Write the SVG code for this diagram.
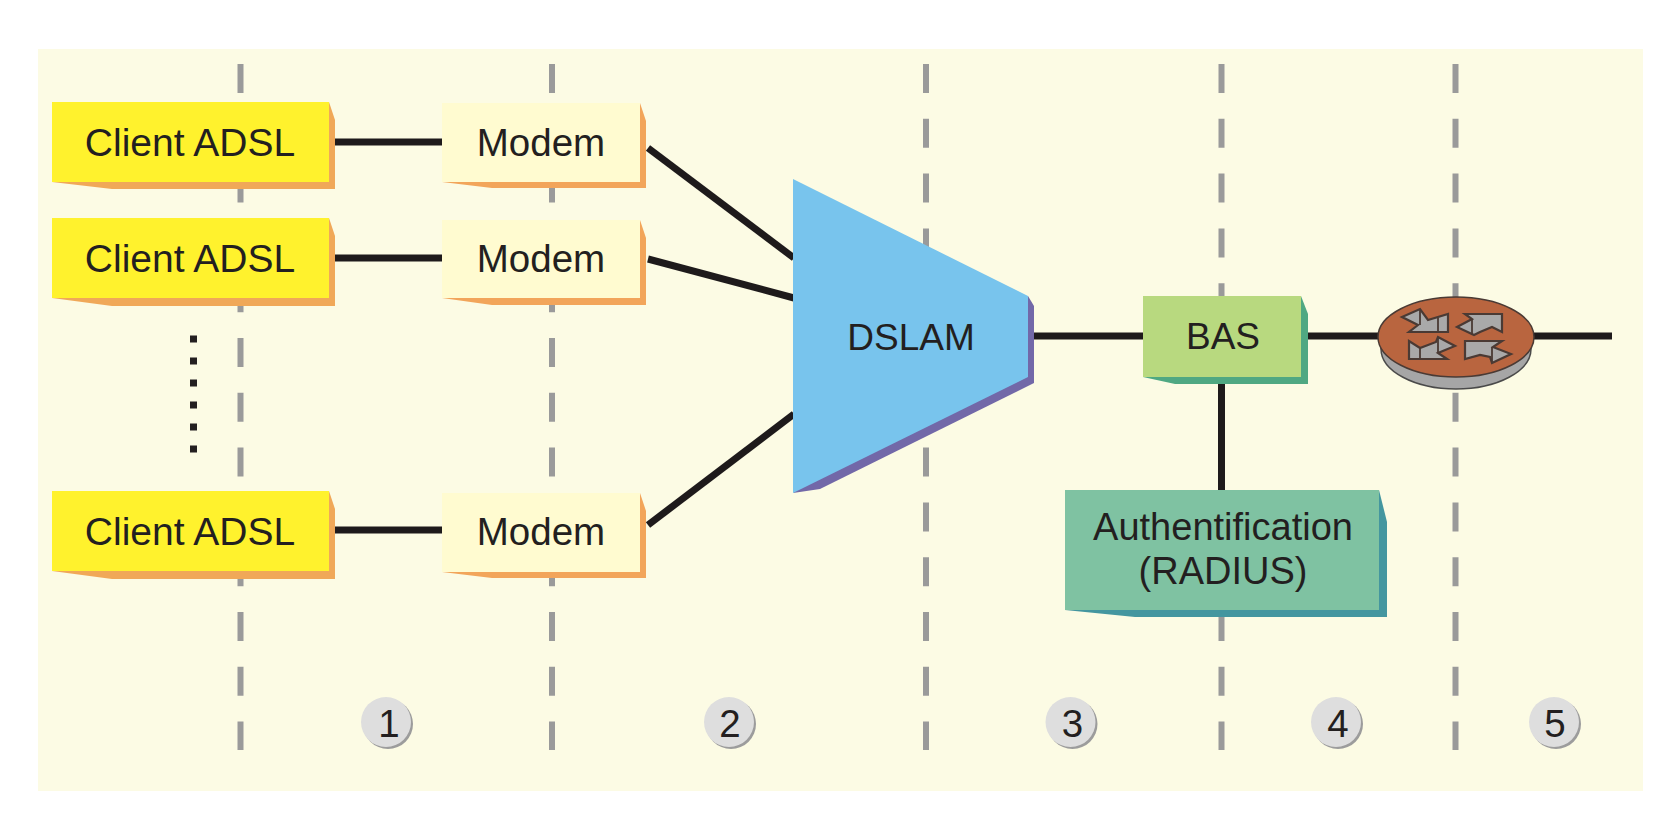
<svg xmlns="http://www.w3.org/2000/svg" width="1672" height="830" viewBox="0 0 1672 830">
<style>
text{font-family:"Liberation Sans",Arial,sans-serif;fill:#231f20;font-size:38.500px;text-anchor:middle}
.cl{font-size:39px}
.sep{stroke:#9a9a9a;stroke-width:6;stroke-dasharray:29 25.8;fill:none}
.con{stroke:#1e1a1b;stroke-width:7;fill:none}
.yf{fill:#fff22d}.ys{fill:#f0a858}
.mf{fill:#fffbd0}.ms{fill:#f2a55a}
.ar{fill:#a9a9a9;stroke:#4a3a34;stroke-width:2.200;stroke-linejoin:miter}
.arl{stroke:#4a3a34;stroke-width:1.800;fill:none}
.nb{fill:#dedede}.ns{fill:#9c9c9c}
.dot{fill:#231f20}
</style>
<rect width="1672" height="830" fill="#ffffff"/>
<rect x="38" y="49" width="1605" height="742" fill="#fcfbe4"/>
<g id="separators">
<line class="sep" x1="240.500" y1="64" x2="240.500" y2="750"/>
<line class="sep" x1="552" y1="64" x2="552" y2="750"/>
<line class="sep" x1="926" y1="64" x2="926" y2="750"/>
<line class="sep" x1="1221.500" y1="64" x2="1221.500" y2="750"/>
<line class="sep" x1="1455.500" y1="64" x2="1455.500" y2="750"/>
</g>
<g id="connectors">
<line class="con" x1="335" y1="142" x2="444" y2="142"/>
<line class="con" x1="335" y1="258" x2="444" y2="258"/>
<line class="con" x1="335" y1="530" x2="444" y2="530"/>
<line class="con" x1="648" y1="148" x2="794" y2="258"/>
<line class="con" x1="648" y1="259" x2="794" y2="298"/>
<line class="con" x1="648" y1="525" x2="794" y2="414"/>
<line class="con" x1="1034" y1="336" x2="1144" y2="336"/>
<line class="con" x1="1308" y1="336" x2="1380" y2="336"/>
<line class="con" x1="1532" y1="336" x2="1612" y2="336"/>
<line class="con" x1="1221.500" y1="384" x2="1221.500" y2="491"/>
</g>
<g id="client1"><polygon class="ys" points="329,102 335,120 335,189 112,189 52,182"/><rect class="yf" x="52" y="102" width="277" height="80"/><text class="cl" x="190" y="155.500">Client ADSL</text></g>
<g id="client2"><polygon class="ys" points="329,218 335,236 335,306 112,306 52,298"/><rect class="yf" x="52" y="218" width="277" height="80"/><text class="cl" x="190" y="271.500">Client ADSL</text></g>
<g id="client3"><polygon class="ys" points="329,491 335,509 335,579 112,579 52,571"/><rect class="yf" x="52" y="491" width="277" height="80"/><text class="cl" x="190" y="544.500">Client ADSL</text></g>
<g id="modem1"><polygon class="ms" points="640,103 646,121 646,188 492,188 442,182"/><rect class="mf" x="442" y="103" width="198" height="79"/><text x="541" y="155.500">Modem</text></g>
<g id="modem2"><polygon class="ms" points="640,220 646,238 646,305 492,305 442,298"/><rect class="mf" x="442" y="220" width="198" height="78"/><text x="541" y="271.500">Modem</text></g>
<g id="modem3"><polygon class="ms" points="640,493 646,511 646,578 492,578 442,572"/><rect class="mf" x="442" y="493" width="198" height="79"/><text x="541" y="544.500">Modem</text></g>
<g id="dslam"><polygon fill="#7268a8" points="1028,296 1034,306 1034,383 820,489 793,493"/><polygon fill="#78c4ed" points="793,179 1028,296 1028,377 793,493"/><text x="911" y="350" style="font-size:37px">DSLAM</text></g>
<g id="bas"><polygon fill="#4fa882" points="1301,296 1308,314 1308,384 1175,384 1143,377"/><rect fill="#b8d97f" x="1143" y="296" width="158" height="81"/><text x="1223" y="349" style="font-size:37px">BAS</text></g>
<g id="auth"><polygon fill="#44969f" points="1379,490 1387,522 1387,617 1135,617 1065,610"/><rect fill="#7fc2a2" x="1065" y="490" width="314" height="120"/><text x="1223" y="540" style="font-size:38px">Authentification</text><text x="1223" y="584" style="font-size:38px">(RADIUS)</text></g>
<g id="router">
<ellipse cx="1456" cy="349" rx="75" ry="40" fill="#a6a6a6" stroke="#4a4a4a" stroke-width="1.500"/>
<ellipse cx="1456" cy="337" rx="78" ry="40" fill="#b9653f" stroke="#4a3a34" stroke-width="1.500"/>
<polygon class="ar" points="1402,317 1420,309 1428,320 1448,314 1448,332 1409,332 1418,325"/>
<path class="arl" d="M1420,309V325M1438,318V332"/>
<polygon class="ar" points="1457,327 1472,319 1465,314 1502,314 1502,332 1492,327 1480,332 1474,335"/>
<path class="arl" d="M1472,319V335"/>
<polygon class="ar" points="1409,341 1409,359 1447,359 1438,353 1455,346 1438,337 1436,342 1420,348"/>
<path class="arl" d="M1420,348V359M1438,337V353"/>
<polygon class="ar" points="1465,341 1502,341 1493,347 1511,354 1492,363 1490,357 1480,355 1465,359"/>
<path class="arl" d="M1492,347V363"/>
</g>
<g id="dots"><rect class="dot" x="190" y="335.500" width="7" height="7"/><rect class="dot" x="190" y="357.500" width="7" height="7"/><rect class="dot" x="190" y="379.500" width="7" height="7"/><rect class="dot" x="190" y="401.500" width="7" height="7"/><rect class="dot" x="190" y="423.500" width="7" height="7"/><rect class="dot" x="190" y="445.500" width="7" height="7"/></g>
<g id="n1"><ellipse class="ns" cx="388" cy="724" rx="25" ry="25"/><ellipse class="nb" cx="386" cy="722" rx="25" ry="25"/><text x="389" y="737">1</text></g>
<g id="n2"><ellipse class="ns" cx="731" cy="724" rx="25" ry="25"/><ellipse class="nb" cx="729" cy="722" rx="25" ry="25"/><text x="730" y="737">2</text></g>
<g id="n3"><ellipse class="ns" cx="1072.500" cy="724" rx="25" ry="25"/><ellipse class="nb" cx="1070.500" cy="722" rx="25" ry="25"/><text x="1072.500" y="737">3</text></g>
<g id="n4"><ellipse class="ns" cx="1338" cy="724" rx="25" ry="25"/><ellipse class="nb" cx="1336" cy="722" rx="25" ry="25"/><text x="1338" y="737">4</text></g>
<g id="n5"><ellipse class="ns" cx="1556" cy="724" rx="25" ry="25"/><ellipse class="nb" cx="1554" cy="722" rx="25" ry="25"/><text x="1555" y="737">5</text></g>
</svg>
